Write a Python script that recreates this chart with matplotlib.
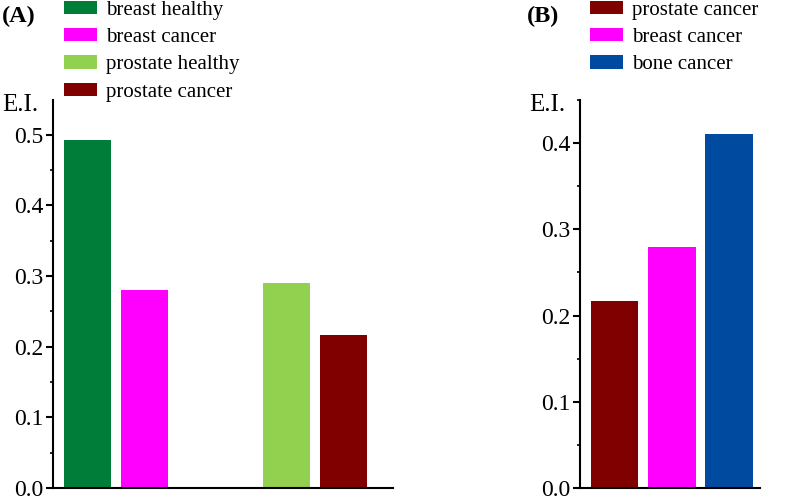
import numpy as np
import matplotlib
matplotlib.use("Agg")
import matplotlib.pyplot as plt
from matplotlib.ticker import MultipleLocator

plt.rcParams['font.family'] = ['Liberation Serif', 'DejaVu Serif']

# panel A
labels_a = ['breast healthy', 'breast cancer', 'prostate healthy', 'prostate cancer']
values_a = [0.492, 0.280, 0.290, 0.217]
colors_a = ['#017d3a', '#ff00ff', '#92d050', '#800000']
pos_a = [0, 1, 3.5, 4.5]

# panel B
labels_b = ['prostate cancer', 'breast cancer', 'bone cancer']
values_b = [0.217, 0.279, 0.411]
colors_b = ['#800000', '#ff00ff', '#004a9f']
pos_b = [0, 1, 2]

fig = plt.figure(figsize=(7.87, 5.0), dpi=100)
W, H = 787, 500

def make_axes(x0, x1, y0, y1):
    return fig.add_axes([x0 / W, 1 - y1 / H, (x1 - x0) / W, (y1 - y0) / H])

axA = make_axes(53, 393, 100, 488)
axB = make_axes(580, 760, 100, 488)

def style(ax, ymax, major, minor):
    for s in ['top', 'right']:
        ax.spines[s].set_visible(False)
    for s in ['left', 'bottom']:
        ax.spines[s].set_linewidth(1.5)
    ax.set_ylim(0, ymax)
    ax.yaxis.set_major_locator(MultipleLocator(major))
    ax.yaxis.set_minor_locator(MultipleLocator(minor))
    ax.set_xticks([])
    ax.tick_params(axis='y', which='major', direction='out', length=5, width=1.5,
                   labelsize=17, pad=2)
    ax.tick_params(axis='y', which='minor', direction='out', length=2.5, width=1.2)
    ax.yaxis.set_major_formatter(matplotlib.ticker.FormatStrFormatter('%.1f'))

barsA = axA.bar(pos_a, values_a, width=0.825, color=colors_a, label=labels_a)
axA.set_xlim(-0.605, 5.36)
style(axA, 0.549, 0.1, 0.05)

barsB = axB.bar(pos_b, values_b, width=0.84, color=colors_b, label=labels_b)
axB.set_xlim(-0.605, 2.55)
style(axB, 0.45, 0.1, 0.05)

fig.text(2 / W, 1 - 105 / H, 'E.I.', fontsize=18, va='center', ha='left')
fig.text(529 / W, 1 - 105 / H, 'E.I.', fontsize=18, va='center', ha='left')

fig.text(2 / W, 1 - 16 / H, '(A)', fontsize=17.5, fontweight='bold', va='center', ha='left')
fig.text(527 / W, 1 - 16 / H, '(B)', fontsize=17.5, fontweight='bold', va='center', ha='left')

leg_kw = dict(loc='upper left', frameon=False, fontsize=15, handlelength=1.6,
              handleheight=0.62, labelspacing=0.4, handletextpad=0.4,
              borderpad=0, borderaxespad=0)
fig.legend(handles=list(barsA), labels=labels_a, bbox_to_anchor=(64 / W, 0.999), **leg_kw)
fig.legend(handles=list(barsB), labels=labels_b, bbox_to_anchor=(590 / W, 0.999), **leg_kw)

fig.savefig('out.png', dpi=100)
